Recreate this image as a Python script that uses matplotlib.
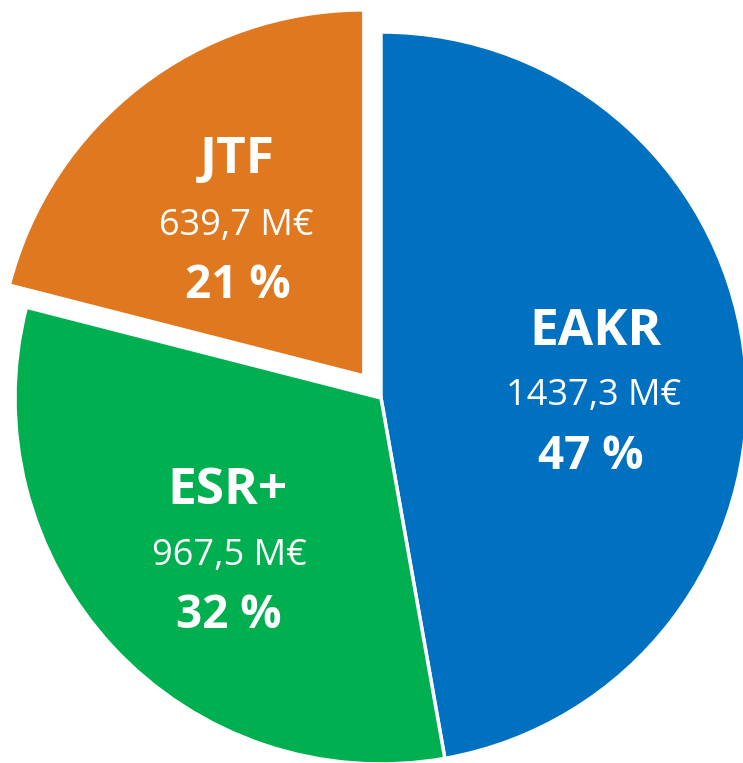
import matplotlib
matplotlib.use("Agg")
import matplotlib.pyplot as plt

# Data
categories = ["EAKR", "ESR+", "JTF"]
values = [1437.3, 967.5, 639.7]
value_labels = ["1437,3 M€", "967,5 M€", "639,7 M€"]
pct_labels = ["47 %", "32 %", "21 %"]
colors = ["#0070C0", "#00B050", "#E0781F"]

W, H = 743, 763
fig = plt.figure(figsize=(W / 100, H / 100), dpi=100)
ax = fig.add_axes([0, 0, 1, 1])

cx, cy, R = 381, H - 398, 366
ax.pie(values, colors=colors, startangle=90, counterclock=False,
       center=(cx, cy), radius=R, explode=[0, 0, 28],
       wedgeprops=dict(edgecolor="white", linewidth=2.5))
ax.set_xlim(0, W)
ax.set_ylim(0, H)
ax.set_aspect("equal")
ax.axis("off")

fam = ["Open Sans", "DejaVu Sans"]
# label positions (pixel coords from top-left): name, value, pct
pos = {
    "EAKR": [(595, 326), (594, 391), (591, 451)],
    "ESR+": [(228, 485), (229, 551), (229, 610)],
    "JTF": [(237, 154), (236, 221), (238, 280)],
}
for cat, vl, pl in zip(categories, value_labels, pct_labels):
    (x1, y1), (x2, y2), (x3, y3) = pos[cat]
    ax.text(x1, H - y1, cat, ha="center", va="center_baseline", color="white",
            fontsize=37, fontweight="bold", family=fam)
    ax.text(x2, H - y2, vl, ha="center", va="center_baseline", color="white",
            fontsize=26, family=fam)
    ax.text(x3, H - y3, pl, ha="center", va="center_baseline", color="white",
            fontsize=33, fontweight="bold", family=fam)

fig.savefig("out.png", dpi=100)
